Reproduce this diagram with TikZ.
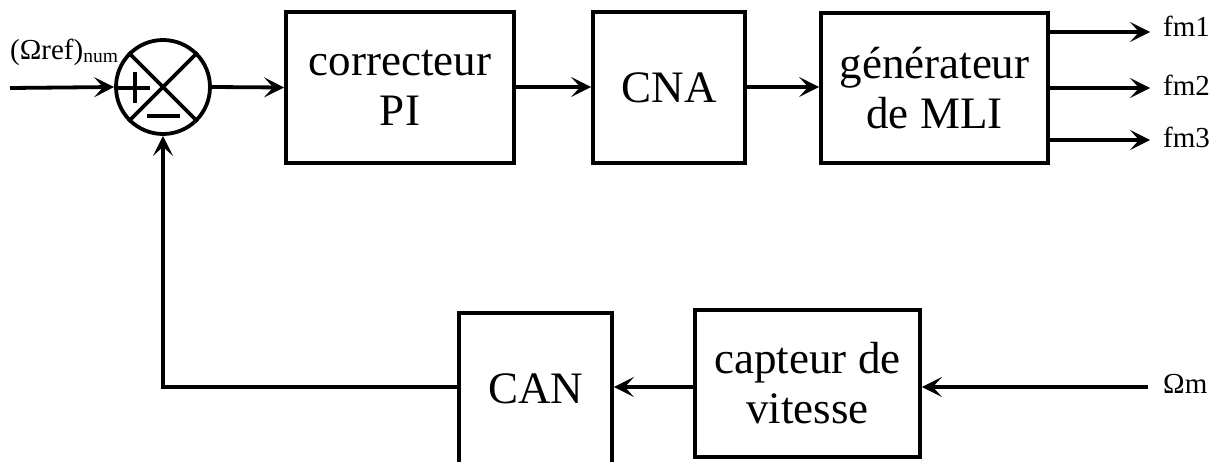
\documentclass[tikz,border=0pt]{standalone}
\usepackage{fontspec}
\setmainfont{Liberation Serif}
\usetikzlibrary{arrows.meta}
\tikzset{
  blk/.style={draw, line width=3.8pt, inner sep=0pt, align=center,
    font=\fontsize{45}{50}\selectfont},
  sig/.style={draw, line width=3.8pt, -{Stealth[length=20pt,width=20pt,inset=9pt]}},
  wire/.style={draw, line width=3.8pt},
  lbl/.style={inner sep=0pt, font=\fontsize{29}{32}\selectfont},
}
\begin{document}
\begin{tikzpicture}[x=1pt,y=-1pt]
\useasboundingbox (0,0) rectangle (1220,461);
\clip (0,0) rectangle (1220,461);
% summing junction
\node[draw, circle, line width=3.8pt, minimum size=94pt, inner sep=0pt] (sum) at (163,87) {};
\path[wire] (sum.north west) -- (sum.south east);
\path[wire] (sum.north east) -- (sum.south west);
\path[wire] (117,88) -- (150,88);
\path[wire] (135,72) -- (135,103);
\path[wire] (147,116) -- (180,116);
% blocks
\node[blk, minimum width=228pt, minimum height=151pt] (pi) at (400,87.5) {correcteur\\PI};
\node[blk, minimum width=152pt, minimum height=151pt] (cna) at (669,87.5) {CNA};
\node[blk, minimum width=227pt, minimum height=150pt] (mli) at (934.5,88) {générateur\\de MLI};
\node[blk, minimum width=153pt, minimum height=151pt] (can) at (535.5,388.5) {CAN};
\node[blk, minimum width=225pt, minimum height=147pt] (cap) at (807.5,383.5) {capteur de\\vitesse};
% input
\coordinate (in) at (10,88);
\node[lbl, anchor=base west] (ref) at (10,59) {(Ωref)\raisebox{-3pt}{\fontsize{19.5}{22}\selectfont num}};
\path[sig] (in) -- (sum.west);
\path[sig] (sum.east) -- (pi.west);
\path[sig] (pi.east |- sum) -- (cna.west |- sum);
\path[sig] (cna.east |- sum) -- (mli.west |- sum);
% outputs
\coordinate (o1) at (1150,32);
\coordinate (o2) at (1150,88);
\coordinate (o3) at (1150,140);
\path[sig] (mli.east |- o1) -- (o1);
\path[sig] (mli.east |- o2) -- (o2);
\path[sig] (mli.east |- o3) -- (o3);
\node[lbl, anchor=base west] (f1) at (1163,36) {fm1};
\node[lbl, anchor=base west] (f2) at (1163,95) {fm2};
\node[lbl, anchor=base west] (f3) at (1163,147) {fm3};
% feedback
\coordinate (om) at (1148,387);
\node[lbl, anchor=base west] (oml) at (1163,393) {Ωm};
\path[sig] (om) -- (cap.east |- om);
\path[sig] (cap.west |- om) -- (can.east |- om);
\path[sig] (can.west |- om) -- (sum.south |- om) -- (sum.south);
\end{tikzpicture}
\end{document}
